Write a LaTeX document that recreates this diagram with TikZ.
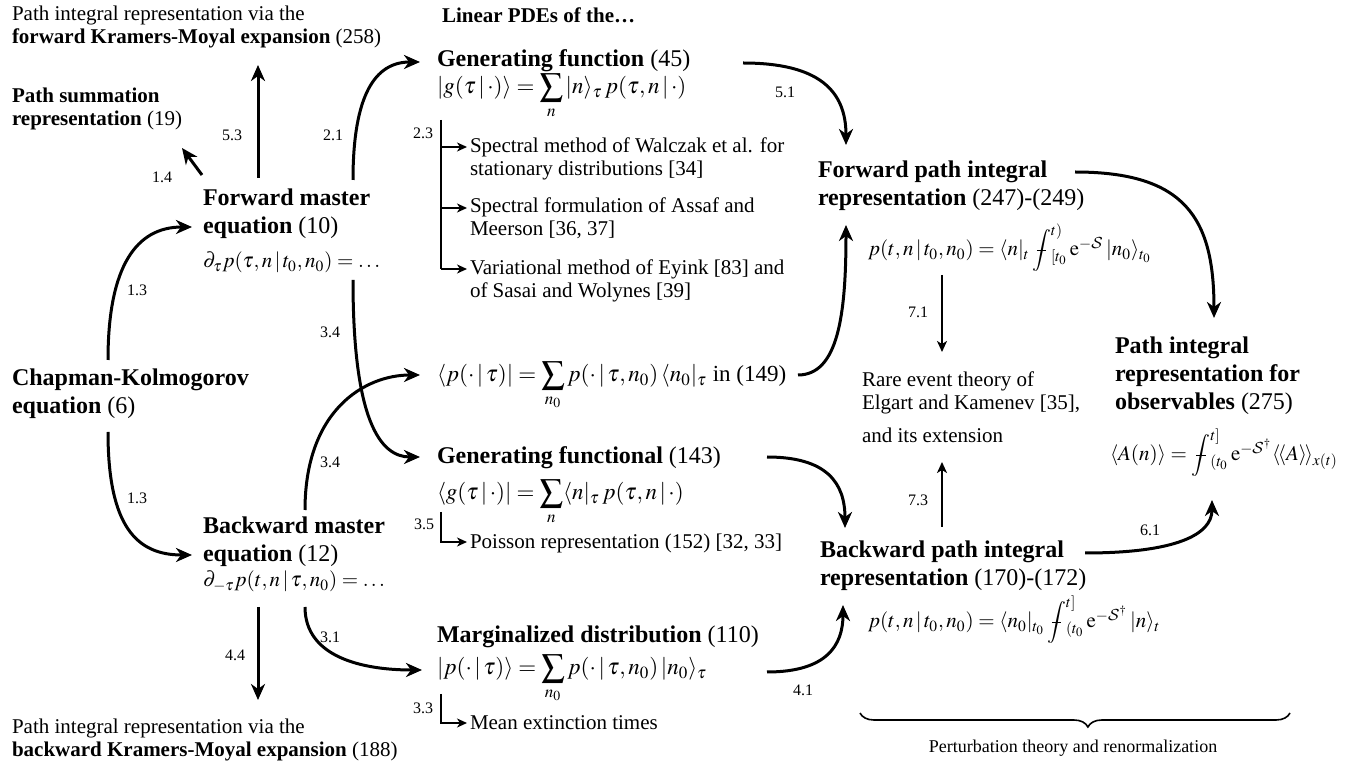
\documentclass[tikz,border=0pt]{standalone}
\usepackage{mathptmx}
\usepackage[no-math]{fontspec}
\setmainfont{Liberation Serif}
\usetikzlibrary{arrows.meta,decorations.pathreplacing}
\DeclareMathAlphabet{\cmcal}{OMS}{cmsy}{m}{n}
\newcommand{\avint}{\mathop{\ooalign{$\displaystyle\int$\cr\hidewidth\rule[0.23em]{0.45em}{0.06em}\hidewidth\cr}}\nolimits}
\begin{document}
\begin{tikzpicture}[x=0.5pt,y=-0.5pt,
 every node/.style={inner sep=0pt, outer sep=0pt, anchor=base west, align=left},
 txt/.style={font=\fontsize{10.5}{11.5}\selectfont},
 eqn/.style={font=\fontsize{11.5}{12.5}\selectfont},
 ttl/.style={font=\fontsize{12}{14}\selectfont\bfseries},
 lbl/.style={anchor=center, font=\fontsize{8}{9}\selectfont},
 conn/.style={line width=1.5pt, -{Stealth[length=8pt,width=7pt,inset=2.5pt]}},
 slim/.style={line width=0.9pt, -{Stealth[length=5.5pt,width=5pt,inset=1.5pt]}},
 brk/.style={line width=0.9pt, -{Stealth[length=5pt,width=4.5pt,inset=1.5pt]}},
 bline/.style={line width=0.9pt},
]
\useasboundingbox (0,0) rectangle (1351,764);
% left column (multi-line nodes are placed by the baseline of their last line)
\node[txt] (fkm) at (12,44) {Path integral representation via the\\\textbf{forward Kramers-Moyal expansion} (258)};
\node[txt] (psum) at (12,126) {\textbf{Path summation}\\\textbf{representation} (19)};
\node[ttl] (fme) at (203,234) {Forward master\\equation {\mdseries(10)}};
\node[txt] (fmeeq) at (203,268) {$\partial_\tau p(\tau,n\,|\,t_0,n_0) = \ldots$};
\node[ttl] (ck) at (12,414) {Chapman-Kolmogorov\\equation {\mdseries(6)}};
\node[ttl] (bme) at (203,562) {Backward master\\equation {\mdseries(12)}};
\node[txt] (bmeeq) at (203,587) {$\partial_{-\tau} p(t,n\,|\,\tau,n_0) = \ldots$};
\node[txt] (bkm) at (12,756) {Path integral representation via the\\\textbf{backward Kramers-Moyal expansion} (188)};
% middle column
\node[txt,font=\fontsize{10.5}{12}\selectfont\bfseries] (lin) at (442,23) {Linear PDEs of the\ldots};
\node[ttl] (gf) at (437,67) {Generating function {\mdseries(45)}};
\node[eqn] (gfeq) at (437,94) {$|g(\tau\,|\,\cdot)\rangle = \displaystyle\sum_n |n\rangle_\tau\, p(\tau,n\,|\,\cdot)$};
\node[txt] (sp1) at (470,176) {Spectral method of Walczak et al. for\\stationary distributions [34]};
\node[txt] (sp2) at (470,236) {Spectral formulation of Assaf and\\Meerson [36, 37]};
\node[txt] (sp3) at (470,298) {Variational method of Eyink [83] and\\of Sasai and Wolynes [39]};
\node[eqn] (pbra) at (437,382) {$\langle p(\cdot\,|\,\tau)| = \displaystyle\sum_{n_0} p(\cdot\,|\,\tau,n_0)\,\langle n_0|_\tau$ in (149)};
\node[ttl] (gfl) at (437,464) {Generating functional {\mdseries(143)}};
\node[eqn] (gfleq) at (437,500) {$\langle g(\tau\,|\,\cdot)| = \displaystyle\sum_n \langle n|_\tau\, p(\tau,n\,|\,\cdot)$};
\node[txt] (poi) at (470,549) {Poisson representation (152) [32, 33]};
\node[ttl] (marg) at (437,643) {Marginalized distribution {\mdseries(110)}};
\node[eqn] (margeq) at (437,675) {$|p(\cdot\,|\,\tau)\rangle = \displaystyle\sum_{n_0} p(\cdot\,|\,\tau,n_0)\,|n_0\rangle_\tau$};
\node[txt] (mean) at (470,730) {Mean extinction times};
% right column
\node[ttl] (fpi) at (818,206) {Forward path integral\\representation {\mdseries(247)-(249)}};
\node[txt] (fpieq) at (868,256) {$p(t,n\,|\,t_0,n_0) = \langle n|_t \avint_{[t_0}^{t)} \mathrm{e}^{-\cmcal{S}}\,|n_0\rangle_{t_0}$};
\node[txt] (rare) at (862,443) {Rare event theory of\\Elgart and Kamenev [35],\\[5pt]and its extension};
\node[ttl] (obs) at (1115,410) {Path integral\\representation for\\observables {\mdseries(275)}};
\node[txt] (obseq) at (1110,461) {$\langle A(n)\rangle = \avint_{(t_0}^{t]} \mathrm{e}^{-\cmcal{S}^\dagger}\langle\!\langle A\rangle\!\rangle_{x(t)}$};
\node[ttl] (bpi) at (820,586) {Backward path integral\\representation {\mdseries(170)-(172)}};
\node[txt] (bpieq) at (868,628) {$p(t,n\,|\,t_0,n_0) = \langle n_0|_{t_0} \avint_{(t_0}^{t]} \mathrm{e}^{-\cmcal{S}^\dagger}\,|n\rangle_t$};
\node[anchor=center, font=\fontsize{9}{10}\selectfont] (pert) at (1073,748) {Perturbation theory and renormalization};
% labels
\node[lbl] (l14) at (162,177) {1.4};
\node[lbl] (l53) at (232,135) {5.3};
\node[lbl] (l21) at (333,135) {2.1};
\node[lbl] (l23) at (423,133) {2.3};
\node[lbl] (l51) at (785,92) {5.1};
\node[lbl] (l13a) at (137,290) {1.3};
\node[lbl] (l34a) at (330,332) {3.4};
\node[lbl] (l34b) at (330,462) {3.4};
\node[lbl] (l13b) at (137,498) {1.3};
\node[lbl] (l35) at (424,524) {3.5};
\node[lbl] (l31) at (330,637) {3.1};
\node[lbl] (l44) at (235,655) {4.4};
\node[lbl] (l33) at (423,708) {3.3};
\node[lbl] (l41) at (803,690) {4.1};
\node[lbl] (l71) at (918,312) {7.1};
\node[lbl] (l73) at (918,500) {7.3};
\node[lbl] (l61) at (1150,530) {6.1};
% connector end points
\coordinate (c14s) at (202,175); \coordinate (c14e) at (182,148);
\coordinate (c53s) at (258,178); \coordinate (c53e) at (258,65);
\coordinate (c21s) at (353,180); \coordinate (c21e) at (420,62);
\coordinate (c13as) at (108,360); \coordinate (c13ae) at (192,227);
\coordinate (c13bs) at (108,432); \coordinate (c13be) at (192,555);
\coordinate (c34as) at (353,280); \coordinate (c34ae) at (420,457);
\coordinate (c34bs) at (305,510); \coordinate (c34be) at (420,375);
\coordinate (c44s) at (258,607); \coordinate (c44e) at (258,700);
\coordinate (c31s) at (305,607); \coordinate (c31e) at (422,670);
\coordinate (c51s) at (743,63); \coordinate (c51e) at (846,145);
\coordinate (cpbs) at (798,375); \coordinate (cpbe) at (846,225);
\coordinate (cgfs) at (767,457); \coordinate (cgfe) at (845,528);
\coordinate (c41s) at (767,672); \coordinate (c41e) at (843,605);
\coordinate (cfos) at (1075,172); \coordinate (cfoe) at (1214,318);
\coordinate (c61s) at (1085,553); \coordinate (c61e) at (1212,500);
\coordinate (c71s) at (942,275); \coordinate (c71e) at (942,352);
\coordinate (c73s) at (942,527); \coordinate (c73e) at (942,462);
% brackets
\coordinate (b23t) at (441,120); \coordinate (b23c) at (441,269); \coordinate (b23e) at (467,269);
\coordinate (b23a) at (441,147); \coordinate (b23ae) at (467,147);
\coordinate (b23b) at (441,208); \coordinate (b23be) at (467,208);
\coordinate (b35t) at (441,512); \coordinate (b35c) at (441,542); \coordinate (b35e) at (467,542);
\coordinate (b33t) at (441,694); \coordinate (b33c) at (441,723); \coordinate (b33e) at (467,723);
\coordinate (brR) at (1290,713); \coordinate (brL) at (860,713);
% connectors
\draw[conn] (c14s) -- (c14e);
\draw[conn] (c53s) -- (c53e);
\draw[conn] (c21s) .. controls +(0,-85) and +(-45,0) .. (c21e);
\draw[conn] (c13as) .. controls +(0,-95) and +(-55,0) .. (c13ae);
\draw[conn] (c13bs) .. controls +(0,95) and +(-55,0) .. (c13be);
\draw[conn] (c34as) .. controls +(0,140) and +(-40,0) .. (c34ae);
\draw[conn] (c34bs) .. controls +(0,-100) and +(-55,0) .. (c34be);
\draw[conn] (c44s) -- (c44e);
\draw[conn] (c31s) .. controls +(0,50) and +(-60,0) .. (c31e);
\draw[conn] (c51s) .. controls +(75,0) and +(0,-55) .. (c51e);
\draw[conn] (cpbs) .. controls +(40,0) and +(0,90) .. (cpbe);
\draw[conn] (cgfs) .. controls +(60,0) and +(0,-45) .. (cgfe);
\draw[conn] (c41s) .. controls +(60,0) and +(0,40) .. (c41e);
\draw[conn] (cfos) .. controls +(110,0) and +(0,-100) .. (cfoe);
\draw[conn] (c61s) .. controls +(90,0) and +(0,35) .. (c61e);
\draw[slim] (c71s) -- (c71e);
\draw[slim] (c73s) -- (c73e);
\draw[bline] (b23t) -- (b23c);
\draw[brk] (b23c) -- (b23e);
\draw[brk] (b23a) -- (b23ae);
\draw[brk] (b23b) -- (b23be);
\draw[brk] (b35t) -- (b35c) -- (b35e);
\draw[brk] (b33t) -- (b33c) -- (b33e);
\draw[line width=0.8pt, decorate, decoration={brace, amplitude=7pt, aspect=0.47}] (brR) -- (brL);
\end{tikzpicture}
\end{document}
